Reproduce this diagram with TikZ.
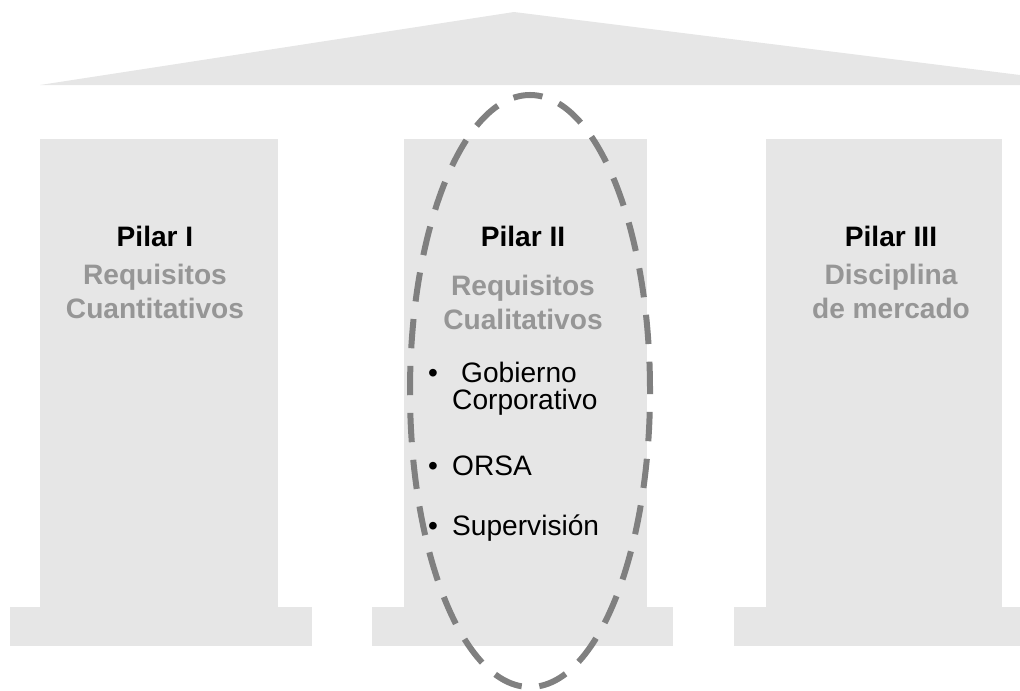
\documentclass[tikz,border=0pt]{standalone}
\usepackage{fontspec}
\setmainfont{Liberation Sans}
\usepackage{tikz}
\usepackage{color}
\definecolor{pilarfill}{RGB}{230,230,230}
\definecolor{reqgray}{RGB}{150,150,150}
\definecolor{ovalgray}{RGB}{128,128,128}

\begin{document}
\begin{tikzpicture}[x=0.03cm,y=-0.03cm]
			\useasboundingbox (0,0) rectangle (1020,690);
			\fontsize{24}{29}\selectfont
			% roof
			\fill [pilarfill] (40,85) -- (514,12) -- (1020,75) -- (1020,85) -- cycle;
			% pillars and bases
			\fill [pilarfill] (40,139) rectangle (278,607);
			\fill [pilarfill] (10,607) rectangle (312,646);
			\fill [pilarfill] (404,139) rectangle (647,607);
			\fill [pilarfill] (372,607) rectangle (673,646);
			\fill [pilarfill] (766,139) rectangle (1002,607);
			\fill [pilarfill] (734,607) rectangle (1020,646);
			% titles
			\node [font=\bfseries] (pilarI) at (155,236) {Pilar I};
			\node [font=\bfseries] (pilarII) at (523,236) {Pilar II};
			\node [font=\bfseries] (pilarIII) at (891,236) {Pilar III};
			\node [font=\bfseries, text=reqgray, align=center] (cuanti) at (155,291) {Requisitos\\Cuantitativos};
			\node [font=\bfseries, text=reqgray, align=center] (cuali) at (523,302) {Requisitos\\Cualitativos};
			\node [font=\bfseries, text=reqgray, align=center] (mercado) at (891,291) {Disciplina\\de mercado};
			% bullet list
			\node [anchor=north west, inner sep=0pt, align=left, font=\fontsize{24}{23}\selectfont] (gobierno) at (428,362) {\makebox[0.72cm][l]{\textbullet}\hspace{0.27cm}Gobierno\\\hspace{0.72cm}Corporativo};
			\node [anchor=west, inner sep=0pt] (orsa) at (428,466) {\makebox[0.72cm][l]{\textbullet}ORSA};
			\node [anchor=west, inner sep=0pt] (superv) at (428,528) {\makebox[0.72cm][l]{\textbullet}Supervisión};
			% dashed oval
			\draw [ovalgray, line width=0.18cm, dash pattern=on 0.88cm off 0.53cm] (530,391) ellipse [x radius=3.6cm, y radius=8.88cm];
		\end{tikzpicture}
\end{document}
